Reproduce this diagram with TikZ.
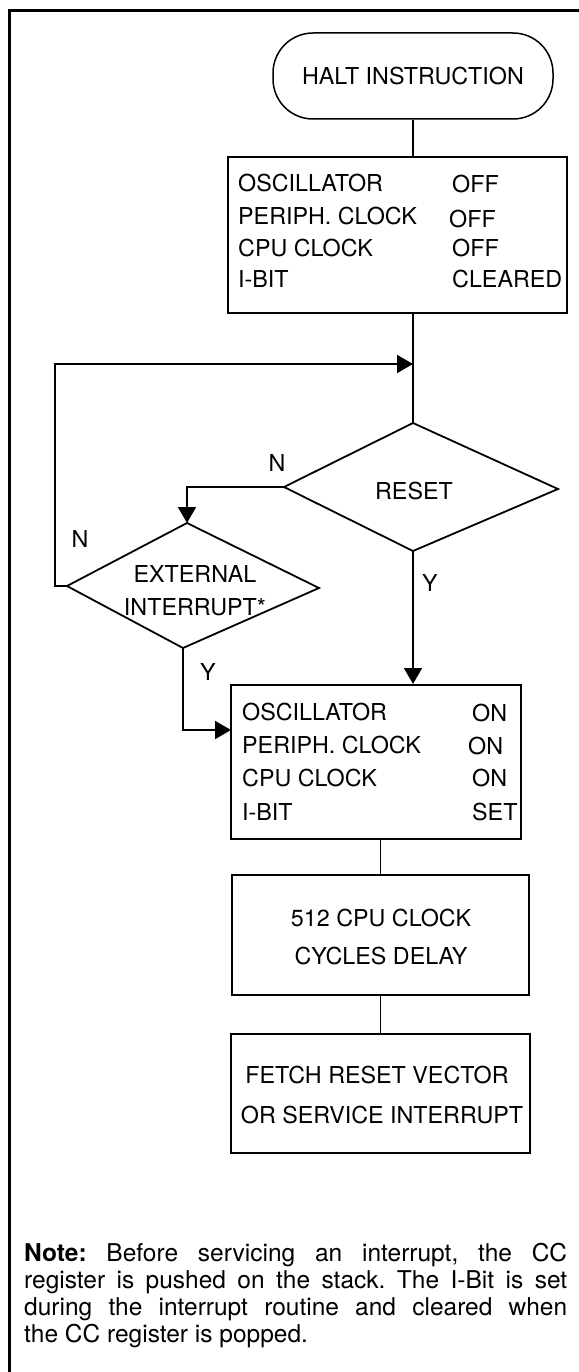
\documentclass[tikz,border=0pt]{standalone}
\usepackage{fontspec}
\setmainfont{TeX Gyre Heros}
\usetikzlibrary{arrows.meta}
\frenchspacing
\begin{document}
\begin{tikzpicture}[x=1pt,y=-1pt,
  txt/.style={inner sep=0pt, font=\fontsize{23.3}{28}\selectfont},
  bw/.style={txt, anchor=base west},
  bc/.style={txt, anchor=base},
  ln/.style={line width=1.8pt},
  arr/.style={ln, -{Triangle[length=16pt,width=18pt]}},
  procbox/.style={draw, line width=2pt, inner sep=0pt},
  notetxt/.style={inner sep=0pt, anchor=base west, font=\fontsize{24.5}{28}\selectfont}]
\useasboundingbox (0,0) rectangle (578,1372);
% frame
\draw[line width=3pt] (9.5,1400) -- (9.5,11) -- (600,11);
% terminal
\node[draw, line width=1.5pt, rounded corners=40pt, minimum width=280pt, minimum height=86pt, txt] (term) at (413,76) {HALT INSTRUCTION};
% box 1
\node[procbox, minimum width=339pt, minimum height=156pt] (box1) at (397.5,235) {};
\node[bw] (b1a) at (238,192) {OSCILLATOR};
\node[bw] (b1b) at (238,225) {PERIPH. CLOCK};
\node[bw] (b1c) at (238,256) {CPU CLOCK};
\node[bw] (b1d) at (238,287) {I-BIT};
\node[bw] (b1e) at (452,193) {OFF};
\node[bw] (b1f) at (449,228) {OFF};
\node[bw] (b1g) at (452,257) {OFF};
\node[bw] (b1h) at (452,287) {CLEARED};
% RESET diamond
\coordinate (rT) at (413,423);
\coordinate (rL) at (284,487);
\coordinate (rR) at (558,489);
\coordinate (rB) at (413,551);
\draw[ln] (rT) -- (rR) -- (rB) -- (rL) -- cycle;
\node[bc] (reset) at (414,499) {RESET};
% EXTERNAL INTERRUPT diamond
\coordinate (eT) at (187,523);
\coordinate (eL) at (67,586);
\coordinate (eR) at (319,588);
\coordinate (eB) at (183,648);
\draw[ln] (eT) -- (eR) -- (eB) -- (eL) -- cycle;
\node[bc] (ext1) at (195,582) {EXTERNAL};
\node[bc] (ext2) at (195,615) {INTERRUPT*};
% box 2
\node[procbox, minimum width=290pt, minimum height=154pt] (box2) at (376,762) {};
\node[bw] (b2a) at (242,720) {OSCILLATOR};
\node[bw] (b2b) at (242,753) {PERIPH. CLOCK};
\node[bw] (b2c) at (242,786) {CPU CLOCK};
\node[bw] (b2d) at (242,820) {I-BIT};
\node[bw] (b2e) at (472,721) {ON};
\node[bw] (b2f) at (468,754) {ON};
\node[bw] (b2g) at (472,786) {ON};
\node[bw] (b2h) at (472,820) {SET};
% box 3
\node[procbox, minimum width=297pt, minimum height=120pt] (box3) at (380.5,935) {};
\node[bc] (b3a) at (381,926) {512 CPU CLOCK};
\node[bc] (b3b) at (381,964) {CYCLES DELAY};
% box 4
\node[procbox, minimum width=299pt, minimum height=119pt] (box4) at (380.5,1093.5) {};
\node[bc] (b4a) at (377,1083) {FETCH RESET VECTOR};
\node[bc] (b4b) at (382,1123) {OR SERVICE INTERRUPT};
% labels
\node[txt] (nR) at (277,463) {N};
\node[txt] (nE) at (80,539) {N};
\node[txt] (yR) at (430,583) {Y};
\node[txt] (yE) at (208,672) {Y};
% connectors
\coordinate (lp) at (413,364);
\coordinate (lc) at (55,364);
\coordinate (b2in) at (231,730);
\draw[ln] (term.south) -- (term.south |- box1.north);
\draw[ln] (term.south |- box1.south) -- (rT);
\draw[arr] (rL) -- (rL -| eT) -- (eT);
\draw[arr] (rB) -- (rB |- box2.north);
\draw[arr] (eL) -| (lc) -- (lp);
\draw[arr] (eB) |- (b2in);
\draw[ln] (box3.north |- box2.south) -- (box3.north);
\draw[ln] (box3.south) -- (box4.north);
% note
\node[notetxt] (n1) at (24,1261) {\makebox[543pt][s]{\textbf{Note:} Before servicing an interrupt, the CC}};
\node[notetxt] (n2) at (24,1288) {\makebox[543pt][s]{register is pushed on the stack. The I-Bit is set}};
\node[notetxt] (n3) at (24,1315) {\makebox[543pt][s]{during the interrupt routine and cleared when}};
\node[notetxt] (n4) at (24,1342) {the CC register is popped.};
\end{tikzpicture}
\end{document}
